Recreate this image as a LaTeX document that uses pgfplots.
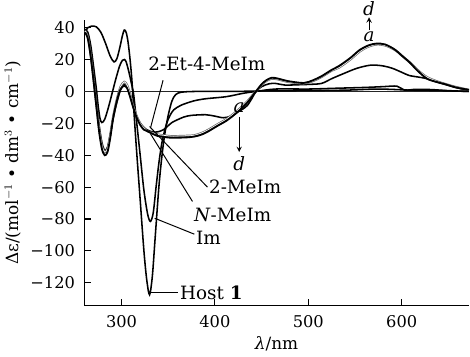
\documentclass[border=0pt]{standalone}
\usepackage{fontspec}
\setmainfont{DejaVu Serif}
\usepackage{pgfplots}
\pgfplotsset{compat=1.18}
\begin{document}
\begin{tikzpicture}
\begin{axis}[
 scale only axis, width=273pt, height=203pt,
 xmin=260, xmax=672, ymin=-134.4, ymax=45,
 axis lines=left, axis line style={-, line width=0.9pt},
 xtick={300,400,500,600}, ytick={-120,-100,...,40},
 yticklabels={−120,−100,−80,−60,−40,−20,0,20,40},
 xticklabels={300,400,500,600},
 tick align=inside, major tick length=5pt, tick style={line width=0.8pt, black},
 tick label style={font=\fontsize{11.5}{13}\selectfont},
 xticklabel style={yshift=-3pt}, yticklabel style={xshift=-3pt},
 xlabel={\textit{λ}/nm}, ylabel={Δε/(mol$^{-1}$ • dm$^{3}$ • cm$^{-1}$)},
 label style={font=\fontsize{12}{14}\selectfont},
 clip=false,
 every axis plot/.append style={black, line width=1.1pt, no marks}
]
% zero line
\addplot[black!85, line width=1.3pt] coordinates {(260,0) (672,0)};
% Host 1
\addplot[smooth, tension=0.5] coordinates {(261,37) (264,40) (268,41) (273,40.5) (278,37) (283,30) (288,22) (292,18.5) (295,20.5) (298,27) (301,35) (303,38.5) (305,37) (307,31) (309,21) (311,8) (313,-10) (316,-36) (320,-68) (324,-100) (327,-118) (330,-127.5) (333,-116) (336,-92) (340,-60) (343,-42) (346,-28) (350,-15) (354,-6) (358,-2) (364,-0.5) (380,0) (420,0) (450,0.3) (500,0.5) (540,0.8) (575,1.5) (610,0.8) (640,0.5) (672,0)};
% Im
\addplot[smooth, tension=0.5] coordinates {(261,39) (264,37) (267,29) (270,16) (273,2) (275,-9) (277,-17) (279,-19.5) (282,-17.5) (286,-10) (290,-1) (294,8) (298,16) (301,19.5) (303,20) (305,18.5) (308,12) (311,4) (313,-2) (316,-18) (320,-40) (324,-62) (328,-77) (331,-81.5) (334,-76) (337,-60) (340,-45) (343,-33) (346,-25) (349,-19) (352,-15) (356,-11.5) (364,-8.6) (377,-6) (390,-4.6) (412,-3.3) (430,-1.2) (444,0) (465,1.5) (500,1.5) (530,2) (560,2.5) (580,3) (595,3.3) (603,0.8) (612,1.2) (630,1.2) (650,0.5) (672,0)};
% N-MeIm
\addplot[smooth, tension=0.5] coordinates {(261,38) (264,35) (267,24) (270,9) (273,-6) (276,-21) (279,-32) (282,-37) (285,-35) (288,-27) (291,-17) (295,-7) (299,1) (303,4.5) (306,3) (309,-2) (312,-8) (315,-14) (319,-19) (323,-22) (327,-24) (331,-25) (336,-25.5) (341,-25) (345,-24) (349,-22) (354,-19.5) (359,-18) (367,-16) (375,-15) (390,-14.6) (400,-15.5) (409,-16.5) (417,-15.5) (424,-13) (430,-11) (435,-8.6) (440,-4) (444,0) (450,3) (458,4.8) (465,5) (475,4) (490,4.2) (500,4.4) (514,5) (525,8) (537,11) (552,14.5) (567,16.5) (580,16) (590,14.5) (600,12) (608,10) (618,9) (627,8) (637,6) (646,4.5) (658,2.5) (672,0.5)};
% 2-MeIm
\addplot[smooth, tension=0.5, draw=black!60, double=white, double distance=0.5pt, line width=0.5pt] coordinates {(261,38) (264,34) (267,23) (270,8) (273,-8) (276,-23) (279,-34) (282,-38) (285,-36) (288,-27) (291,-16) (295,-5) (299,3) (303,6) (306,4) (309,-1) (312,-8) (316,-15) (320,-20) (324,-23) (328,-25) (333,-26) (339,-27) (345,-27.5) (352,-28) (360,-28) (370,-27.8) (378,-27.5) (386,-26) (393,-24) (403,-20.5) (412,-17.5) (420,-14) (427,-10.5) (435,-6) (440,-2.5) (444,0) (450,4) (455,6.5) (461,8) (468,7.5) (478,6) (495,5) (505,6.5) (514,9) (525,13) (533,15) (545,20) (555,25) (564,28) (574,29.5) (584,28.5) (594,25.5) (602,21.5) (610,17.5) (618,13) (627,9) (637,6.5) (646,4.8) (658,2.8) (672,1)};
% 2-Et-4-MeIm
\addplot[smooth, tension=0.5, line width=1.3pt] coordinates {(261,37) (264,33) (267,22) (270,7) (273,-9) (276,-25) (279,-36) (282,-40) (285,-38) (288,-29) (291,-17) (295,-6) (299,1.5) (303,3.5) (306,2) (309,-3) (312,-9) (316,-16) (320,-21) (324,-24) (328,-25) (333,-26.5) (339,-28) (345,-28.5) (352,-29) (360,-29) (370,-28.8) (378,-28.3) (386,-27) (393,-25) (403,-21.5) (412,-18.5) (420,-15) (427,-11.5) (435,-6.8) (440,-3) (444,0) (450,4.5) (455,7) (461,8.6) (468,8) (478,6.5) (495,5.3) (505,7) (514,9.5) (525,13.5) (533,16) (545,21) (555,26) (565,29) (573,30) (582,29.5) (592,26.5) (600,22.5) (608,18.5) (617,13) (627,8) (637,6) (646,4.6) (658,2.5) (672,1)};
% labels
\begin{scope}[every node/.style={font=\fontsize{13}{15}\selectfont, inner sep=1pt}]
\node[anchor=west] at (axis cs:327,17) {2-Et-4-MeIm};
\draw[line width=0.7pt] (axis cs:344.5,7) -- (axis cs:331,-23);
\node[anchor=west] at (axis cs:392,-60) {2-MeIm};
\draw[line width=0.7pt] (axis cs:330,-22) -- (axis cs:392,-60);
\node[anchor=west] at (axis cs:376,-77.5) {\textit{N}-MeIm};
\draw[line width=0.7pt] (axis cs:331,-26.5) -- (axis cs:376,-69);
\node[anchor=west] at (axis cs:378,-91.5) {Im};
\draw[line width=0.7pt] (axis cs:335.5,-79.5) -- (axis cs:378,-89.5);
\node[anchor=west] at (axis cs:361,-126) {Host \textbf{1}};
\draw[line width=0.7pt] (axis cs:331,-126) -- (axis cs:361,-126);
\node at (axis cs:565,34.5) {\textit{a}};
\node at (axis cs:565,52) {\textit{d}};
\draw[->, line width=0.7pt, >=stealth] (axis cs:565,38.5) -- (axis cs:565,46.5);
\node at (axis cs:426,-10.5) {\textit{a}};
\node at (axis cs:426,-45.5) {\textit{d}};
\draw[->, line width=0.7pt, >=stealth] (axis cs:426,-16) -- (axis cs:426,-38);
\end{scope}
\end{axis}
\end{tikzpicture}
\end{document}
